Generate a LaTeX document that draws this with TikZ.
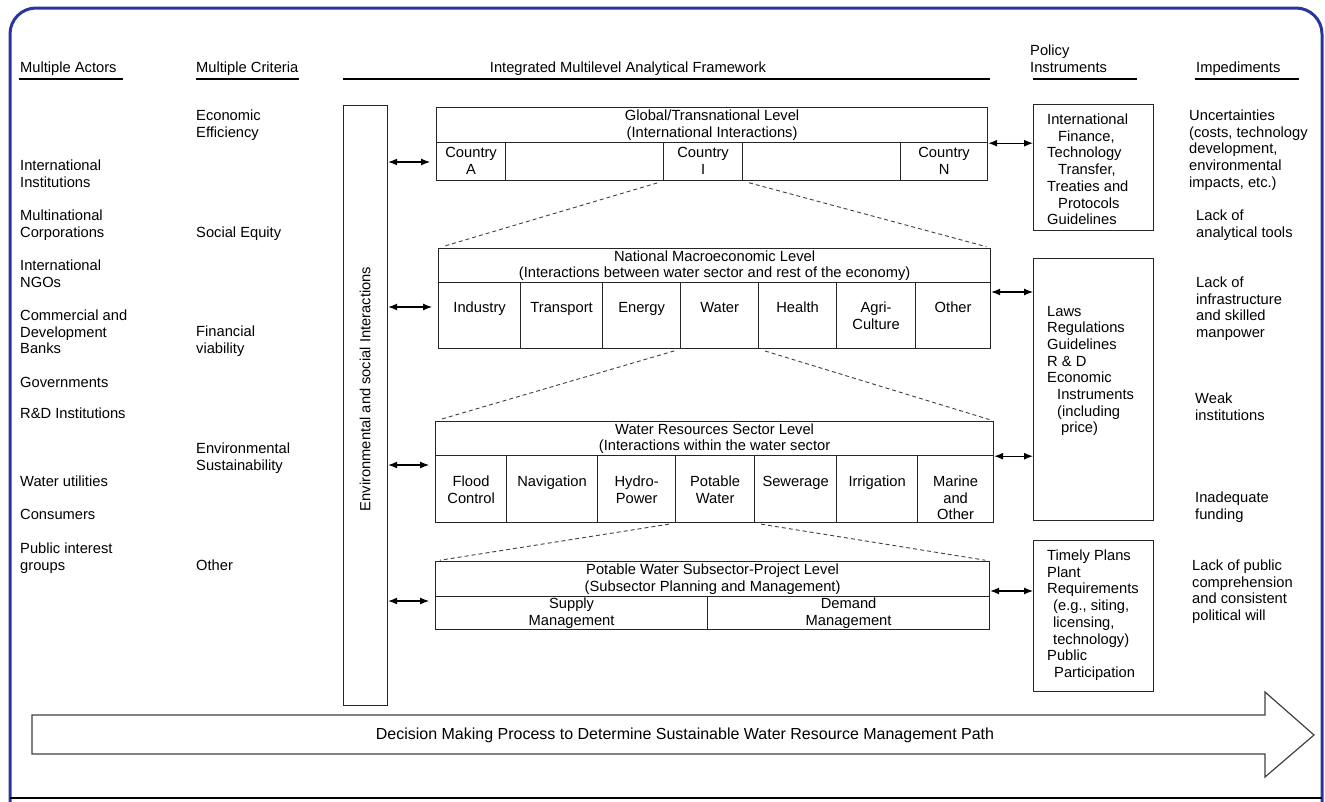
\documentclass[tikz,border=0pt]{standalone}
\usepackage{fontspec}
\setmainfont{Liberation Sans}
\usepackage{xcolor}
\usetikzlibrary{arrows.meta, positioning}
\definecolor{frameblue}{RGB}{40,55,160}

\begin{document}
\begin{tikzpicture}[x=1pt, y=-1pt,
  font=\fontsize{14.7}{16.7}\selectfont,
  txt/.style={inner sep=0, align=left, anchor=north west},
  ctxt/.style={inner sep=0, align=center, anchor=north},
  box/.style={draw=black!85, line width=1.2pt, inner sep=0, anchor=north west},
  cell/.style={draw=black!85, line width=1.2pt, inner sep=0, anchor=north west, align=center},
  link/.style={{Latex[length=9pt,width=7pt]}-{Latex[length=9pt,width=7pt]}, line width=1.1pt},
  zoomline/.style={dash pattern=on 4pt off 3pt, black!75, line width=0.9pt, shorten <=6pt, shorten >=5pt},
  uline/.style={line width=1.2pt}]
\useasboundingbox[fill=white] (0,0) rectangle (1325,801);
\clip (0,0) rectangle (1325,801);

% frame
\draw[frameblue, line width=3pt, rounded corners=26pt] (10,8) rectangle (1322,830);
\draw[line width=1.5pt] (10,798) -- (1322,798);

% column heads
\node[txt] (h-act) at (20,61.7) {Multiple Actors};
\node[txt] (h-crit) at (196,61.7) {Multiple Criteria};
\node[ctxt] (h-frame) at (628,61.7) {Integrated Multilevel Analytical Framework};
\node[txt] (h-pol) at (1030,44.7) {Policy\\Instruments};
\node[txt] (h-imp) at (1196,61.7) {Impediments};
\draw[uline] (19,79) -- (123,79);
\draw[uline] (196,79) -- (299,79);
\draw[uline] (343,79) -- (990,79);
\draw[uline] (1033,79) -- (1137,79);
\draw[uline] (1195,79) -- (1299,79);

% actors
\foreach \yy/\txt [count=\k] in {165/{International\\Institutions}, 215/{Multinational\\Corporations},
  265/{International\\NGOs}, 315/{Commercial and\\Development\\Banks}, 382/{Governments},
  413/{R\&D Institutions}, 481/{Water utilities}, 514/{Consumers}, 548/{Public interest\\groups}}
  \node[txt] (act-\k) at (20,\yy-5.3) {\txt};

% criteria
\foreach \yy/\txt [count=\k] in {115/{Economic\\Efficiency}, 232/{Social Equity},
  331/{Financial\\viability}, 448/{Environmental\\Sustainability}, 565/{Other}}
  \node[txt] (crit-\k) at (196,\yy-5.3) {\txt};

% impediments
\foreach \xx/\yy/\txt [count=\k] in {1189/115/{Uncertainties\\(costs, technology\\development,\\environmental\\impacts, etc.)},
  1196/215/{Lack of\\analytical tools}, 1196/282/{Lack of\\infrastructure\\and skilled\\manpower},
  1195/398/{Weak\\institutions}, 1195/497/{Inadequate\\funding},
  1192/565/{Lack of public\\comprehension\\and consistent\\political will}}
  \node[txt] (imp-\k) at (\xx,\yy-5.3) {\txt};

% interactions column
\node[box, minimum width=44pt, minimum height=600pt] (envbox) at (343,105) {};
\node[rotate=90, inner sep=0] (envtext) at (365,389) {Environmental and social Interactions};

% global level
\node[cell, minimum width=551pt, minimum height=35pt] (glob-head) at (436,107)
  {Global/Transnational Level\\(International Interactions)};
\foreach \nm/\xa/\xb/\lbl in {a/436/505/{Country\\A}, b/505/663/{}, i/663/742/{Country\\I},
  c/742/900/{}, n/900/987/{Country\\N}}{
  \pgfmathsetmacro\w{\xb-\xa}
  \node[cell, minimum width=\w pt, minimum height=38pt] (glob-\nm) at (\xa,142) {};
  \node[ctxt] (glob-\nm-t) at ([yshift=-5pt]glob-\nm.north) {\lbl};
}

% national level
\node[cell, minimum width=552pt, minimum height=34pt] (nat-head) at (438,248)
  {National Macroeconomic Level\\(Interactions between water sector and rest of the economy)};
\foreach \nm/\xa/\xb/\lbl in {ind/438/520/Industry, tra/520/602/Transport, ene/602/680/Energy,
  wat/680/758/Water, hea/758/836/Health, agr/836/915/{Agri-\\Culture}, oth/915/990/Other}{
  \pgfmathsetmacro\w{\xb-\xa}
  \node[cell, minimum width=\w pt, minimum height=66pt] (nat-\nm) at (\xa,282) {};
  \node[ctxt] (nat-\nm-t) at ([yshift=-19.7pt]nat-\nm.north) {\lbl};
}

% water sector level
\node[cell, minimum width=558pt, minimum height=34pt] (wat-head) at (435,421)
  {Water Resources Sector Level\\(Interactions within the water sector};
\foreach \nm/\xa/\xb/\lbl in {flo/435/506/{Flood\\Control}, nav/506/597/Navigation, hyd/597/675/{Hydro-\\Power},
  pot/675/754/{Potable\\Water}, sew/754/836/Sewerage, irr/836/917/Irrigation, mar/917/993/{Marine\\and\\Other}}{
  \pgfmathsetmacro\w{\xb-\xa}
  \node[cell, minimum width=\w pt, minimum height=67pt] (wat-\nm) at (\xa,455) {};
  \node[ctxt] (wat-\nm-t) at ([yshift=-20.7pt]wat-\nm.north) {\lbl};
}

% potable water level
\node[cell, minimum width=554pt, minimum height=35pt] (pot-head) at (435,561)
  {Potable Water Subsector-Project Level\\(Subsector Planning and Management)};
\node[cell, minimum width=272pt, minimum height=33pt] (pot-sup) at (435,596) {Supply\\Management};
\node[cell, minimum width=282pt, minimum height=33pt] (pot-dem) at (707,596) {Demand\\Management};

% zoom lines
\draw[zoomline] (glob-i.south west) -- (nat-head.north west);
\draw[zoomline] (glob-i.south east) -- (nat-head.north east);
\draw[zoomline] (nat-wat.south west) -- (wat-head.north west);
\draw[zoomline] (nat-wat.south east) -- (wat-head.north east);
\draw[zoomline] (wat-pot.south west) -- (pot-head.north west);
\draw[zoomline] (wat-pot.south east) -- (pot-head.north east);

% policy instruments
\node[box, minimum width=120pt, minimum height=126pt] (pol1) at (1033,104) {};
\node[txt] (pol1-t) at (1047,113.7) {International\\\hspace*{11pt}Finance,\\Technology\\\hspace*{11pt}Transfer,\\Treaties and\\\hspace*{11pt}Protocols\\Guidelines};
\node[box, minimum width=120pt, minimum height=262pt] (pol2) at (1033,258) {};
\node[txt] (pol2-t) at (1047,305.7) {Laws\\Regulations\\Guidelines\\R \& D\\Economic\\\hspace*{10pt}Instruments\\\hspace*{10pt}(including\\\hspace*{14pt}price)};
\node[box, minimum width=120pt, minimum height=151pt] (pol3) at (1033,540) {};
\node[txt] (pol3-t) at (1047,549.7) {Timely Plans\\Plant\\Requirements\\\hspace*{6pt}(e.g., siting,\\\hspace*{6pt}licensing,\\\hspace*{6pt}technology)\\Public\\\hspace*{7pt}Participation};

% links
\coordinate (l1) at (0,162);
\coordinate (l2) at (0,307);
\coordinate (l3) at (0,465);
\coordinate (l4) at (0,601);
\coordinate (r2) at (0,292);
\coordinate (r4) at (0,591);
\draw[link, shorten >=6pt] (envbox.east |- l1) -- (glob-a.west |- l1);
\draw[link, shorten >=6pt] (envbox.east |- l2) -- (nat-ind.west |- l2);
\draw[link, shorten >=6pt] (envbox.east |- l3) -- (wat-flo.west |- l3);
\draw[link, shorten >=6pt] (envbox.east |- l4) -- (pot-sup.west |- l4);
\draw[link] (glob-head.south east) -- (pol1.west |- glob-head.south east);
\draw[link] (nat-oth.east |- r2) -- (pol2.west |- r2);
\draw[link] (wat-head.south east) -- (pol2.west |- wat-head.south east);
\draw[link] (pot-dem.east |- r4) -- (pol3.west |- r4);

% decision arrow
\draw[black!75, line width=1.2pt] (32,715) -- (1265,715) -- (1265,692) -- (1314,735)
  -- (1265,777) -- (1265,754) -- (32,754) -- cycle;
\node[font=\fontsize{16}{18}\selectfont, inner sep=0] (path-t) at (685,735)
  {Decision Making Process to Determine Sustainable Water Resource Management Path};
\end{tikzpicture}
\end{document}
